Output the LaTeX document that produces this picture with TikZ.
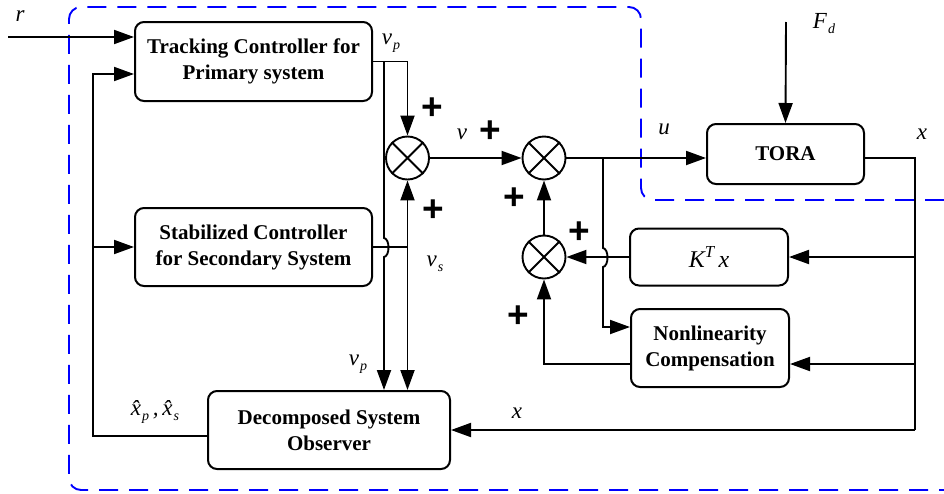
\documentclass[tikz,border=0pt]{standalone}
\usepackage{fontspec}
\setmainfont{Liberation Serif}
\newfontfamily\plusfont{Liberation Sans}
\usetikzlibrary{arrows.meta}
\newcommand{\lsub}[1]{\kern1pt\raisebox{-5pt}{\fontsize{14}{14}\selectfont #1}}
\begin{document}
\begin{tikzpicture}[x=1pt,y=-1pt,
  line width=1.9pt,
  blk/.style={draw, rounded corners=9pt, line width=2pt, align=center,
    font=\fontsize{21}{26}\selectfont\bfseries, inner sep=0pt},
  sumj/.style={draw, circle, minimum size=43pt, inner sep=0pt, line width=1.9pt},
  arr/.style={-{Triangle[length=20pt,width=14pt]}},
  lbl/.style={font=\fontsize{23}{24}\selectfont\itshape, inner sep=0pt},
  pl/.style={font=\fontsize{37}{37}\selectfont\plusfont\bfseries, inner sep=0pt},
  bnd/.style={draw=blue, dash pattern=on 19pt off 11pt, line width=1.9pt, rounded corners=12pt}
  ]
\useasboundingbox (0,0) rectangle (944,493);
% boundary
\draw[bnd] (944,200) -- (641,200) -- (641,7) -- (69,7) -- (69,490) -- (944,490);

% blocks
\node[blk, minimum width=237pt, minimum height=79pt] (track) at (253.5,61.5) {Tracking Controller for\\Primary system};
\node[blk, minimum width=237pt, minimum height=78pt] (stab) at (253.5,247) {Stabilized Controller\\for Secondary System};
\node[blk, minimum width=242pt, minimum height=78pt] (obs) at (329,430) {Decomposed System\\Observer};
\node[blk, minimum width=157pt, minimum height=60pt] (tora) at (785.5,154) {TORA};
\node[blk, minimum width=158pt, minimum height=57pt, font=\fontsize{24}{26}\selectfont\itshape] (kt) at (709,257) {K\textsuperscript{T}\,x};
\node[blk, minimum width=158pt, minimum height=78pt] (nl) at (710,348) {Nonlinearity\\Compensation};

% summing junctions
\node[sumj] (s1) at (407.5,158) {};
\node[sumj] (s2) at (544,158) {};
\node[sumj] (s3) at (544,257) {};
\foreach \s in {s1,s2,s3} \draw (\s.45) -- (\s.225) (\s.135) -- (\s.315);

% coordinates
\coordinate (rin) at (8,37);
\coordinate (fbl) at (93,436);
\coordinate (vpb) at (384,61.5);
\coordinate (ub) at (603,158);
\coordinate (fd) at (786,22);
\coordinate (xr) at (915,158);

% inputs of tracking controller
\draw[arr] (rin) -- (rin -| track.west);
\draw[arr] ([yshift=-6pt]obs.west) -- (fbl) |- ([yshift=-12.5pt]track.west);
\draw[arr] (stab.west -| fbl) -- (stab.west);

% tracking output
\draw[arr] (track.east) -- (track.east -| s1) -- (s1.north);
\draw[arr] (vpb) -- (384,238) .. controls (390,239) and (390,256) .. (384,257) -- (vpb |- obs.north);

% stabilizing output
\draw (stab.east) -- (stab.east -| s1);
\draw[arr] (stab.east -| s1) -- (s1.south);
\draw[arr] (stab.east -| s1) -- (s1 |- obs.north);

% forward path
\draw[arr] (s1.east) -- (s2.west);
\draw[arr] (s2.east) -- (s2.east -| tora.west);
\draw[arr] (ub) -- (603,248) .. controls (609,249) and (609,266) .. (603,267) -- (603,327) -- (603,327 -| nl.west);
\draw[arr] (fd) -- (tora.north);

% plant output and feedbacks
\draw (s2 -| tora.east) -- (xr) -- (xr |- obs.east);
\draw[arr] (xr |- obs.east) -- (obs.east);
\draw[arr] (xr |- kt.east) -- (kt.east);
\draw[arr] (xr |- 0,364) -- (nl.east |- 0,364);
\draw[arr] (kt.west) -- (s3.east);
\draw[arr] (nl.west |- 0,364) -| (s3.south);
\draw[arr] (s3.north) -- (s2.south);

% labels
\node[lbl] (lr) at (20,16) {r};
\node[lbl] (lvp1) at (391,43) {v\lsub{p}};
\node[lbl] (lv) at (462,134) {v};
\node[lbl] (lvs) at (435,264) {v\lsub{s}};
\node[lbl] (lvp2) at (358,364) {v\lsub{p}};
\node[lbl] (lxh) at (155,412) {\^{x}\lsub{p}\,,\,\^{x}\lsub{s}};
\node[lbl] (lu) at (664,129) {u};
\node[lbl] (lfd) at (824,24) {F\lsub{d}};
\node[lbl] (lx1) at (922,134) {x};
\node[lbl] (lx2) at (517,413) {x};

\node[pl] (p1) at (432,109) {+};
\node[pl] (p2) at (433,211) {+};
\node[pl] (p3) at (490,132) {+};
\node[pl] (p4) at (514,199) {+};
\node[pl] (p5) at (579,233) {+};
\node[pl] (p6) at (518,317) {+};
\end{tikzpicture}
\end{document}
